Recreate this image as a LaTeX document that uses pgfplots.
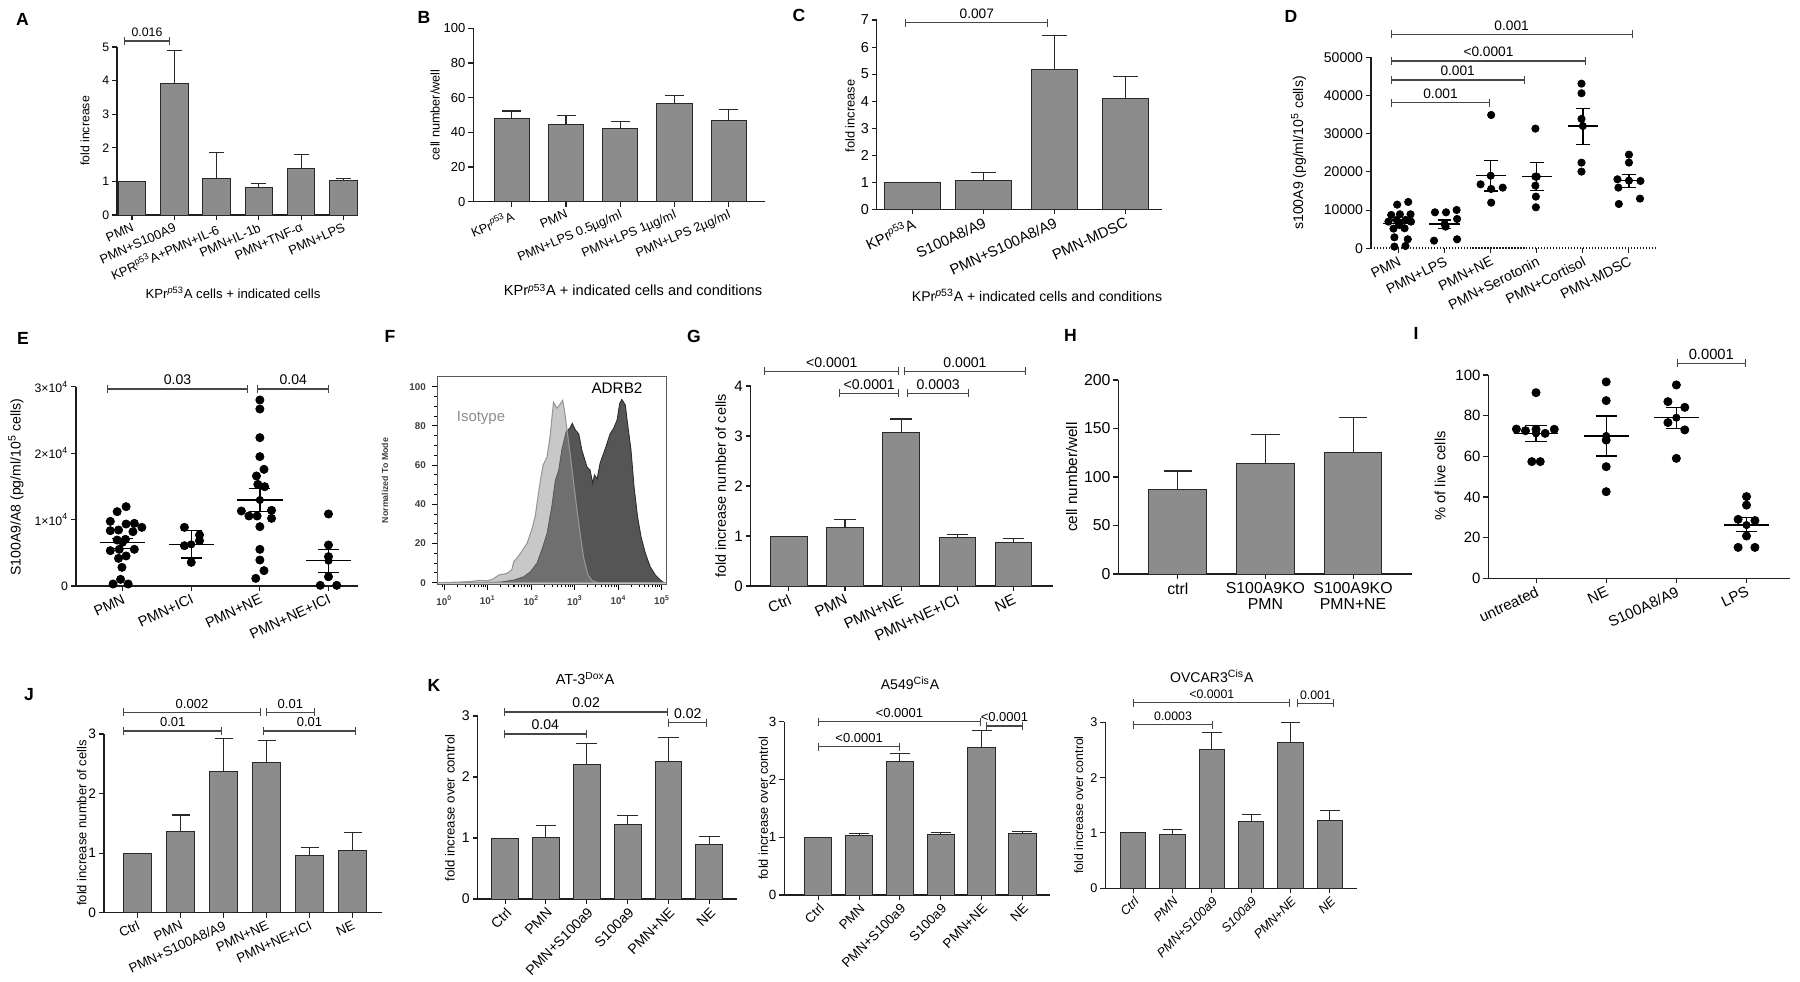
\documentclass[border=0pt]{standalone}
\usepackage{fontspec}
\setmainfont{Liberation Sans}
\usepackage{pgfplots}
\pgfplotsset{compat=1.18}
\usetikzlibrary{arrows.meta}
\definecolor{barfill}{RGB}{140,140,140}
\definecolor{bardraw}{RGB}{40,40,40}
\definecolor{axcol}{RGB}{30,30,30}
\definecolor{sigcol}{RGB}{70,70,70}
\definecolor{adrbfill}{RGB}{85,85,85}
\definecolor{adrbline}{RGB}{45,45,45}
\definecolor{isofill}{RGB}{141,141,141}
\definecolor{isoline}{RGB}{150,150,150}
\newcommand\fs[1]{\fontsize{#1}{#1}\selectfont}
\tikzset{sigline/.style={sigcol, line width=0.6pt, {Bar[width=4.5pt]}-{Bar[width=4.5pt]}}}
\newcommand\sig[5]{\draw[sigline] (#1,#3) -- (#2,#3); \node[anchor=base, font=\fs{#5}, inner sep=0pt] at ({(#1+#2)/2},{#3-4}) {#4};}
\pgfplotsset{
 gp/.style={scale only axis, anchor=south west, axis lines*=left,
   axis line style={axcol, line width=0.7pt}, tick style={axcol, line width=0.6pt},
   tick align=outside, major tick length=2.8pt, ymin=0, clip=false,
   /pgf/number format/assume math mode=true, /pgf/number format/1000 sep={},
   scaled y ticks=false, xticklabel style={inner sep=1pt}, yticklabel style={inner sep=1.5pt}},
 rot/.style={xticklabel style={rotate=#1, anchor=north east}},
 gpbar0/.style={ybar, bar shift=0pt, fill=barfill, draw=bardraw, line width=0.55pt},
 gpbar/.style={gpbar0,
   error bars/y dir=plus, error bars/y explicit, error bars/error bar style={line width=0.6pt, color=bardraw}},
 cap/.style={error bars/error mark options={rotate=90, mark size=#1, line width=0.6pt, color=bardraw}},
 dots/.style={only marks, mark=*, mark size=#1, black, mark options={fill=black}},
 meanl/.style={only marks, mark=none, black, error bars/x dir=both, error bars/x fixed=#1, error bars/error mark=none, error bars/error bar style={line width=0.75pt}},
 seml/.style={only marks, mark=none, black, error bars/y dir=both, error bars/y explicit, error bars/error bar style={line width=0.75pt}, error bars/error mark options={rotate=90, mark size=#1, line width=0.75pt}},
}
\begin{document}
\begin{tikzpicture}
\path[use as bounding box] (0,0) rectangle (360mm,-196.4mm);

% ---------------- A
\begin{axis}[gp, at={(23.4mm,-43mm)}, width=48mm, height=33.6mm,
  xmin=-0.355, xmax=5.32, ymax=5, ytick={0,...,5}, xtick={0,...,5},
  xticklabels={PMN, PMN+S100A9, KPR\textsuperscript{p53}A+PMN+IL-6, PMN+IL-1b, PMN+TNF-α, PMN+LPS},
  rot=24, xticklabel style={font=\fs{7.3}}, yticklabel style={font=\fs{7}}]
\addplot[gpbar0, bar width=0.65] table{
x y
0 1.00
};
\addplot[gpbar, bar width=0.65, cap=4.3pt] table[x=x,y=y,y error=e]{
x y e
1 3.92 0.98
2 1.08 0.79
3 0.82 0.12
4 1.38 0.42
5 1.03 0.06
};
\end{axis}

% ---------------- B
\begin{axis}[gp, at={(94.66mm,-40.34mm)}, width=58.34mm, height=34.68mm,
  xmin=-0.71, xmax=4.67, ymax=100, ytick={0,20,...,100}, xtick={0,...,4},
  xticklabels={KPr\textsuperscript{\textit{p}53}A, PMN, PMN+LPS 0.5µg/ml, PMN+LPS 1µg/ml, PMN+LPS 2µg/ml},
  rot=23, xticklabel style={font=\fs{7.2}}, yticklabel style={font=\fs{7.4}}]
\addplot[gpbar, bar width=0.65, cap=5.4pt] table[x=x,y=y,y error=e]{
x y e
0 48.0 4.3
1 44.8 4.8
2 42.3 4.2
3 56.5 4.7
4 46.7 6.6
};
\end{axis}

% ---------------- C
\begin{axis}[gp, at={(175.34mm,-41.86mm)}, width=57mm, height=37.86mm,
  xmin=-0.508, xmax=3.51, ymax=7, ytick={0,...,7}, xtick={0,...,3},
  xticklabels={KPr\textsuperscript{\textit{p}53}A, S100A8/A9, PMN+S100A8/A9, PMN-MDSC},
  rot=25, xticklabel style={font=\fs{8.4}}, yticklabel style={font=\fs{8.2}}]
\addplot[gpbar0, bar width=0.79] table{
x y
0 1.00
};
\addplot[gpbar, bar width=0.79, cap=7pt] table[x=x,y=y,y error=e]{
x y e
1 1.06 0.30
};
\addplot[gpbar, bar width=0.65, cap=7pt] table[x=x,y=y,y error=e]{
x y e
2 5.18 1.26
3 4.09 0.81
};
\end{axis}

% ---------------- D
\begin{axis}[gp, at={(274.18mm,-49.66mm)}, width=57.32mm, height=38.2mm,
  xmin=-0.6, xmax=5.62, ymax=50000, ytick={0,10000,...,50000}, xtick={0,...,5},
  x axis line style={densely dotted, line width=1pt},
  xticklabels={PMN, PMN+LPS, PMN+NE, PMN+Serotonin, PMN+Cortisol, PMN-MDSC},
  rot=27, xticklabel style={font=\fs{8}}, yticklabel style={font=\fs{8}}]
\addplot[dots=2.1pt] table{
x y
0.21 12130
-0.03 11430
-0.16 8730
0.03 8900
0.26 8900
-0.04 7420
0.15 7420
-0.22 6980
0.02 6110
0.27 6980
-0.11 5150
0.13 5240
-0.09 2880
0.20 2360
-0.09 440
0.15 610
0.79 9420
1.03 9420
1.26 10030
1.27 7680
1.02 5670
0.77 2000
1.27 2360
2.01 34900
1.78 16750
2.01 15530
2.26 15880
2.01 11950
2.97 31330
2.97 18760
2.97 16400
2.98 13530
2.98 10730
3.97 43100
3.97 40580
3.97 33860
3.97 22430
3.97 20070
5.00 24520
5.00 22430
4.75 18060
5.25 17630
4.77 15880
4.78 11600
5.24 13000
};
\addplot[meanl=0.33] table[x=x,y=m]{
x m
0 6540
1 6370
2 19000
3 18760
4 32000
5 17700
};
\addplot[seml=3.9pt] table[x=x,y=m,y error plus=ep,y error minus=em]{
x m ep em
0 6540 900 850
1 6370 1050 1220
2 19000 4000 4000
3 18760 3640 3660
4 32000 4650 4770
5 17700 1670 1820
};
\end{axis}

% ---------------- E
\begin{axis}[gp, at={(15.2mm,-117.2mm)}, width=56.4mm, height=39.86mm,
  xmin=-0.68, xmax=3.43, ymax=30000, ytick={0,10000,20000,30000},
  yticklabels={0,{1×10\textsuperscript{4}},{2×10\textsuperscript{4}},{3×10\textsuperscript{4}}},
  xtick={0,...,3}, xticklabels={PMN, PMN+ICI, PMN+NE, PMN+NE+ICI},
  rot=25, xticklabel style={font=\fs{8.2}}, yticklabel style={font=\fs{7}}]
\addplot[dots=2.35pt] table{
x y
0.05 11940
-0.08 11190
-0.18 9730
0.05 9330
0.17 9430
0.28 8830
-0.18 8330
-0.06 8430
0.15 8180
-0.08 6920
0.04 7020
-0.18 5320
-0.05 5520
0.17 5520
-0.06 4160
0.05 4520
-0.01 2810
-0.03 1000
-0.14 300
0.08 300
0.90 8830
1.12 7680
0.90 6070
1.12 6820
1.00 3560
2.00 28000
2.00 26640
2.00 22330
2.00 19470
2.06 17560
1.95 16560
1.97 15300
2.07 14950
1.73 11290
1.84 10540
1.96 10540
2.17 11390
2.17 10180
2.00 8930
2.00 5520
2.00 3910
2.06 2310
1.94 1150
3.00 10840
3.00 6170
3.00 4420
3.00 1400
2.88 100
3.12 100
};
\addplot[meanl=0.33] table[x=x,y=m]{
x m
0 6520
1 6270
2 12940
3 3810
};
\addplot[seml=6pt] table[x=x,y=m,y error plus=ep,y error minus=em]{
x m ep em
0 6520 650 850
1 6270 2060 2060
2 12940 1760 1750
3 3810 1710 1800
};
\end{axis}

% ---------------- F
\begin{axis}[scale only axis, anchor=south west, at={(87.46mm,-116.86mm)}, width=45.88mm, height=41.52mm,
  xmin=-0.16, xmax=5.11, ymin=-0.8, ymax=105.1,
  axis line style={black!65, line width=0.5pt},
  xtick={0,...,5},
  xticklabels={10\textsuperscript{0},10\textsuperscript{1},10\textsuperscript{2},10\textsuperscript{3},10\textsuperscript{4},10\textsuperscript{5}},
  minor xtick={-0.046,0.301,0.477,0.602,0.699,0.778,0.845,0.903,0.954,1.301,1.477,1.602,1.699,1.778,1.845,1.903,1.954,2.301,2.477,2.602,2.699,2.778,2.845,2.903,2.954,3.301,3.477,3.602,3.699,3.778,3.845,3.903,3.954,4.301,4.477,4.602,4.699,4.778,4.845,4.903,4.954},
  ytick={0,20,...,100}, minor y tick num=3,
  xtick pos=left, ytick pos=left, tick align=outside,
  major tick length=3pt, minor tick length=1.7pt, tick style={black, line width=0.6pt},
  tick label style={font=\bfseries\fs{5.6}, text=black!75},
  /pgf/number format/assume math mode=true]
\addplot[fill=adrbfill, draw=adrbline, line width=0.5pt] table{
x y
-0.16 0
0.5 0
1.0 0.2
1.29 0.3
1.6 1.4
1.82 3
1.98 5.6
2.13 10
2.24 16.7
2.36 25
2.47 38.8
2.55 52
2.63 57.5
2.70 67.7
2.80 77
2.88 78.7
2.94 81.3
3.01 78
3.09 75.9
3.16 67.7
3.28 59
3.35 57.5
3.41 50.7
3.45 55
3.51 53
3.58 61
3.70 68.5
3.81 76
3.89 78.7
3.97 83
4.03 91.5
4.08 93.5
4.16 90.6
4.21 81.3
4.29 67.7
4.36 49
4.44 33.7
4.52 23.5
4.62 15
4.73 8.2
4.85 3.9
4.96 1.4
5.05 0
5.11 0
} \closedcycle;
\addplot[fill=isofill, fill opacity=0.48, draw=isoline, line width=0.6pt] table{
x y
-0.16 0
0.3 0.3
0.6 0.6
0.8 1.2
1.0 1.0
1.13 2
1.25 3.9
1.44 4.8
1.55 6.5
1.60 11
1.65 12
1.75 15
1.90 20
2.01 27
2.09 34
2.20 51
2.27 60
2.36 64
2.43 74.5
2.51 92
2.59 89
2.66 91
2.72 93
2.76 88
2.82 78
2.86 71
2.95 55
3.05 37
3.12 25
3.20 13
3.30 4
3.40 1
3.55 0
5.11 0
} \closedcycle;
\end{axis}

% ---------------- G
\begin{axis}[gp, at={(150.14mm,-117.2mm)}, width=60.4mm, height=40mm,
  xmin=-0.68, xmax=4.7, ymax=4, ytick={0,...,4}, xtick={0,...,4},
  xticklabels={Ctrl, PMN, PMN+NE, PMN+NE+ICI, NE},
  rot=25, xticklabel style={font=\fs{8.6}}, yticklabel style={font=\fs{8.6}}]
\addplot[gpbar0, bar width=0.65] table{
x y
0 1.00
};
\addplot[gpbar, bar width=0.65, cap=6.1pt] table[x=x,y=y,y error=e]{
x y e
1 1.17 0.16
2 3.07 0.27
3 0.97 0.06
4 0.87 0.08
};
\end{axis}

% ---------------- H
\begin{axis}[gp, at={(223.66mm,-114.8mm)}, width=58.68mm, height=38.8mm,
  xmin=-0.68, xmax=2.67, ymax=200, ytick={0,50,...,200}, xtick={0,...,2},
  xticklabels={ctrl, {S100A9KO\\PMN}, {S100A9KO\\PMN+NE}},
  xticklabel style={font=\fs{9}, align=center, inner sep=2pt}, yticklabel style={font=\fs{9}}]
\addplot[gpbar, bar width=0.66, cap=8pt] table[x=x,y=y,y error=e]{
x y e
0 87.3 18.9
1 114.1 29.9
2 125.0 36.5
};
\end{axis}

% ---------------- I
\begin{axis}[gp, at={(297.66mm,-115.66mm)}, width=60.34mm, height=40.66mm,
  xmin=-0.68, xmax=3.62, ymax=100, ytick={0,20,...,100}, xtick={0,...,3},
  xticklabels={untreated, NE, S100A8/A9, LPS},
  rot=25, xticklabel style={font=\fs{8.5}}, yticklabel style={font=\fs{8.5}}]
\addplot[dots=2.35pt] table{
x y
0.00 91.3
-0.28 73.4
-0.15 72.6
0.00 73.3
0.13 71.3
0.26 73.3
-0.06 57.4
0.06 57.4
1.00 96.6
1.00 87.4
1.00 68.0
1.00 54.9
1.00 42.6
2.00 95.1
1.88 86.9
2.12 84.1
1.88 76.6
2.12 73.0
2.00 59.0
3.00 40.2
3.00 36.0
2.88 29.0
3.12 28.4
3.00 20.8
2.88 15.2
3.12 15.2
};
\addplot[meanl=0.32] table[x=x,y=m]{
x m
0 71.3
1 70.0
2 79.0
3 26.2
};
\addplot[seml=6pt] table[x=x,y=m,y error plus=ep,y error minus=em]{
x m ep em
0 71.3 3.8 4.1
1 70.0 9.8 9.8
2 79.0 5.1 5.2
3 26.2 3.8 3.2
};
\end{axis}

% ---------------- J
\begin{axis}[gp, at={(20.8mm,-182.54mm)}, width=55.54mm, height=35.74mm,
  xmin=-0.78, xmax=5.67, ymax=3, ytick={0,...,3}, xtick={0,...,5},
  xticklabels={Ctrl, PMN, PMN+S100A8/A9, PMN+NE, PMN+NE+ICI, NE},
  rot=25, xticklabel style={font=\fs{7.6}}, yticklabel style={font=\fs{7.8}}]
\addplot[gpbar0, bar width=0.65] table{
x y
0 1.00
};
\addplot[gpbar, bar width=0.65, cap=5.1pt] table[x=x,y=y,y error=e]{
x y e
1 1.36 0.28
2 2.37 0.55
3 2.52 0.37
4 0.96 0.14
5 1.05 0.29
};
\end{axis}

% ---------------- K1
\begin{axis}[gp, at={(95.54mm,-179.8mm)}, width=51.8mm, height=36.6mm,
  xmin=-0.67, xmax=5.67, ymax=3, ytick={0,...,3}, xtick={0,...,5},
  xticklabels={Ctrl, PMN, PMN+S100a9, S100a9, PMN+NE, NE},
  rot=45, xticklabel style={font=\fs{8}}, yticklabel style={font=\fs{8}}]
\addplot[gpbar0, bar width=0.66] table{
x y
0 1.00
};
\addplot[gpbar, bar width=0.66, cap=5.9pt] table[x=x,y=y,y error=e]{
x y e
1 1.005 0.195
2 2.20 0.35
3 1.22 0.15
4 2.26 0.39
5 0.90 0.12
};
\end{axis}

% ---------------- K2
\begin{axis}[gp, at={(156.86mm,-179mm)}, width=53.18mm, height=34.66mm,
  xmin=-0.83, xmax=5.68, ymax=3, ytick={0,...,3}, xtick={0,...,5},
  xticklabels={Ctrl, PMN, PMN+S100a9, S100a9, PMN+NE, NE},
  rot=45, xticklabel style={font=\fs{7.6}}, yticklabel style={font=\fs{7.6}}]
\addplot[gpbar0, bar width=0.67] table{
x y
0 1.00
};
\addplot[gpbar, bar width=0.67, cap=5.7pt] table[x=x,y=y,y error=e]{
x y e
1 1.03 0.04
2 2.31 0.14
3 1.04 0.05
4 2.55 0.30
5 1.07 0.03
};
\end{axis}

% ---------------- K3
\begin{axis}[gp, at={(221.04mm,-177.66mm)}, width=50.28mm, height=33.2mm,
  xmin=-0.71, xmax=5.68, ymax=3, ytick={0,...,3}, xtick={0,...,5},
  xticklabels={Ctrl, PMN, PMN+S100a9, S100a9, PMN+NE, NE},
  rot=45, xticklabel style={font=\itshape\fs{7.2}}, yticklabel style={font=\fs{7.2}}]
\addplot[gpbar0, bar width=0.64] table{
x y
0 1.00
};
\addplot[gpbar, bar width=0.64, cap=5.5pt] table[x=x,y=y,y error=e]{
x y e
1 0.98 0.09
2 2.50 0.32
3 1.21 0.13
4 2.63 0.37
5 1.23 0.17
};
\end{axis}

% ---------------- annotations in pixel coordinates
\begin{scope}[x=0.2mm, y=-0.2mm]
\foreach \L/\xx/\yy in {A/22.5/19, B/424/17.5, C/799/15, D/1291/16, E/23/338, F/390/336.5, G/694/336, H/1070.5/335.5, I/1416/333.5, J/29/694.5, K/434/685}
  \node[font=\bfseries\fs{10}] at (\xx,\yy) {\L};
\node[rotate=90, font=\fs{7}] at (85,131) {fold increase};
\node[rotate=90, font=\fs{7.2}] at (435,115) {cell number/well};
\node[rotate=90, font=\fs{7.3}] at (850,116) {fold increase};
\node[rotate=90, font=\fs{8}] at (1298.6,153) {s100A9 (pg/ml/10\textsuperscript{5} cells)};
\node[rotate=90, font=\fs{8}] at (16,487) {S100A9/A8 (pg/ml/10\textsuperscript{5} cells)};
\node[rotate=90, font=\bfseries\fs{5}, text=black!75] at (385,480.5) {Normalized To Mode};
\node[rotate=90, font=\fs{8.2}] at (720.7,486) {fold increase number of cells};
\node[rotate=90, font=\fs{8.7}] at (1071.7,477) {cell number/well};
\node[rotate=90, font=\fs{8.4}] at (1440,476) {\% of live cells};
\node[rotate=90, font=\fs{7.4}] at (81.7,823) {fold increase number of cells};
\node[rotate=90, font=\fs{7.5}] at (450,808) {fold increase over control};
\node[rotate=90, font=\fs{7.3}] at (763.3,808) {fold increase over control};
\node[rotate=90, font=\fs{7}] at (1078.8,805) {fold increase over control};
\node[font=\fs{7.5}] at (233,293) {KPr\textsuperscript{\textit{p}53}A cells + indicated cells};
\node[font=\fs{8.3}] at (633,290) {KPr\textsuperscript{\textit{p}53}A + indicated cells and conditions};
\node[font=\fs{8}] at (1037,295) {KPr\textsuperscript{\textit{p}53}A + indicated cells and conditions};
\node[font=\fs{8.3}] at (585,679) {AT-3\textsuperscript{Dox}A};
\node[font=\fs{8}] at (910,683) {A549\textsuperscript{Cis}A};
\node[font=\fs{8}] at (1211.8,676) {OVCAR3\textsuperscript{Cis}A};
\node[font=\fs{8.5}, text=black!45] at (481,418) {Isotype};
\node[font=\fs{8.7}] at (617,388) {ADRB2};
\sig{124}{170}{41}{0.016}{7}
\sig{905.3}{1048.3}{22.7}{0.007}{7.8}
\sig{1390.7}{1490.3}{102.7}{0.001}{7.8}
\sig{1390.7}{1524.7}{80}{0.001}{7.8}
\sig{1390.7}{1586.3}{61}{<0.0001}{7.8}
\sig{1390.7}{1632.6}{34.3}{0.001}{7.8}
\sig{106.7}{248.3}{389}{0.03}{8}
\sig{257.3}{329.3}{389}{0.04}{8}
\sig{764.3}{899.3}{371.3}{<0.0001}{8}
\sig{904}{1026}{371.3}{0.0001}{8}
\sig{839}{899.3}{393.3}{<0.0001}{8}
\sig{907.3}{969}{393.3}{0.0003}{8}
\sig{1676.7}{1746}{363.3}{0.0001}{8.4}
\sig{123.3}{260.7}{712.3}{0.002}{7.4}
\sig{265.7}{315}{712.3}{0.01}{7.4}
\sig{123.3}{222.3}{731}{0.01}{7.4}
\sig{263.3}{355.7}{731}{0.01}{7.4}
\sig{504}{668.3}{712}{0.02}{8}
\sig{504}{586.7}{734}{0.04}{8}
\sig{668.3}{707.3}{722.7}{0.02}{8}
\sig{818.3}{980.6}{721.7}{<0.0001}{7.4}
\sig{818.3}{900}{746.7}{<0.0001}{7.4}
\sig{986.2}{1022.7}{726}{<0.0001}{7.4}
\sig{1133.2}{1290.4}{702.7}{<0.0001}{7}
\sig{1133.2}{1212.9}{724.7}{0.0003}{7}
\sig{1297}{1334}{703.3}{0.001}{7}
\end{scope}
\end{tikzpicture}
\end{document}
